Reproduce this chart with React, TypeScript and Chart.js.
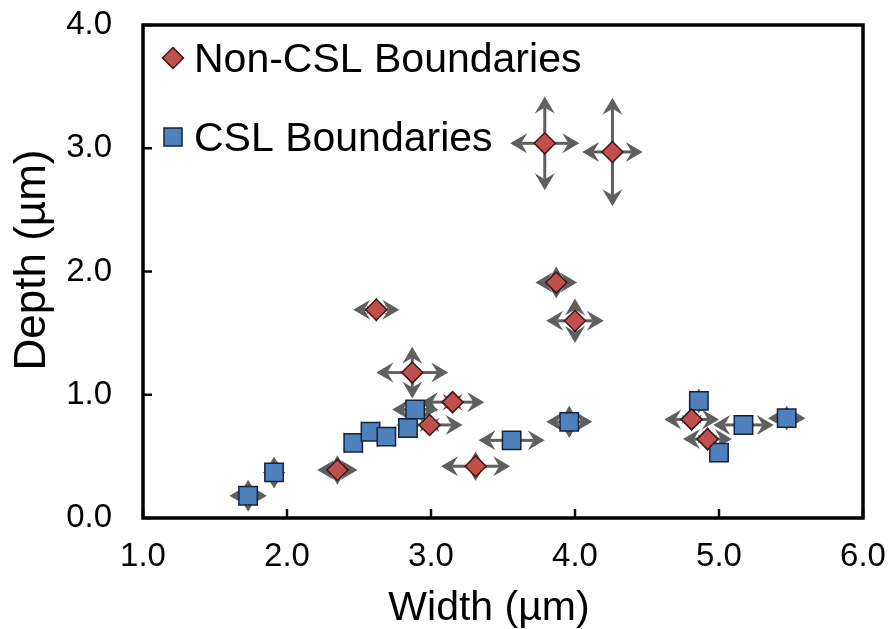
import React, { useEffect, useRef } from "react";
import { Chart, registerables } from "chart.js";

Chart.register(...registerables);

// ---- data ----
const nonCslWidth = [3.79, 4.26, 2.62, 2.87, 3.15, 2.99, 2.35, 3.31, 3.87, 4.0, 4.81, 4.92];
const nonCslDepth = [3.04, 2.97, 1.69, 1.18, 0.94, 0.755, 0.39, 0.42, 1.91, 1.6, 0.8, 0.64];
const nonCslWidthErr = [0.24, 0.21, 0.16, 0.25, 0.22, 0.23, 0.14, 0.24, 0.145, 0.2, 0.19, 0.17];
const nonCslDepthErr = [0.38, 0.44, 0.1, 0.21, 0.07, 0.08, 0.12, 0.12, 0.13, 0.18, 0.1, 0.1];

const cslWidth = [1.73, 1.91, 2.46, 2.58, 2.69, 2.84, 2.89, 3.56, 3.96, 4.86, 5.0, 5.17, 5.47];
const cslDepth = [0.18, 0.37, 0.61, 0.7, 0.66, 0.73, 0.88, 0.63, 0.78, 0.95, 0.53, 0.755, 0.81];
const cslWidthErr = [0.13, 0.08, 0.06, 0.06, 0.06, 0.06, 0.16, 0.23, 0.16, 0.07, 0.06, 0.21, 0.13];
const cslDepthErr = [0.13, 0.13, 0.05, 0.05, 0.05, 0.05, 0.06, 0.06, 0.13, 0.1, 0.06, 0.06, 0.1];

const xTicks = [1, 2, 3, 4, 5, 6];
const xTickLabels = ["1.0", "2.0", "3.0", "4.0", "5.0", "6.0"];
const yTicks = [0, 1, 2, 3, 4];
const yTickLabels = ["0.0", "1.0", "2.0", "3.0", "4.0"];

const seriesNames = ["Non-CSL Boundaries", "CSL Boundaries"];
const xTitle = "Width (µm)";
const yTitle = "Depth (µm)";

// ---- styles ----
const FONT = "'Liberation Sans', Arial, sans-serif";
const RED = "#C0504D";
const RED_BORDER = "#3f1514";
const BLUE = "#4F81BD";
const BLUE_BORDER = "#14243f";
const ERR_COLOR = "#5f5f5f";

function drawArrow(ctx: CanvasRenderingContext2D, cx: number, cy: number, tx: number, ty: number) {
  const dx = tx - cx;
  const dy = ty - cy;
  const len = Math.hypot(dx, dy);
  if (len < 0.5) return;
  const ux = dx / len;
  const uy = dy / len;
  const px = -uy;
  const py = ux;
  const L = 17;
  const W = 10;
  const N = 11;
  if (len > N) {
    ctx.beginPath();
    ctx.moveTo(cx, cy);
    ctx.lineTo(tx - ux * N, ty - uy * N);
    ctx.stroke();
  }
  ctx.beginPath();
  ctx.moveTo(tx, ty);
  ctx.lineTo(tx - ux * L + px * W, ty - uy * L + py * W);
  ctx.lineTo(tx - ux * N, ty - uy * N);
  ctx.lineTo(tx - ux * L - px * W, ty - uy * L - py * W);
  ctx.closePath();
  ctx.fill();
}

const framePlugin = {
  id: "frameAndErrors",
  beforeDatasetsDraw(chart: any) {
    const { ctx, chartArea: a, scales } = chart;
    const xs = scales.x;
    const ys = scales.y;
    ctx.save();
    // error bars
    ctx.strokeStyle = ERR_COLOR;
    ctx.fillStyle = ERR_COLOR;
    ctx.lineWidth = 3;
    chart.data.datasets.forEach((ds: any) => {
      ds.data.forEach((p: any, i: number) => {
        const cx = xs.getPixelForValue(p.x);
        const cy = ys.getPixelForValue(p.y);
        const ex = ds.errX[i];
        const ey = ds.errY[i];
        drawArrow(ctx, cx, cy, xs.getPixelForValue(p.x - ex), cy);
        drawArrow(ctx, cx, cy, xs.getPixelForValue(p.x + ex), cy);
        drawArrow(ctx, cx, cy, cx, ys.getPixelForValue(p.y + ey));
        drawArrow(ctx, cx, cy, cx, ys.getPixelForValue(p.y - ey));
      });
    });
    // frame
    ctx.strokeStyle = "#000";
    ctx.lineWidth = 3.5;
    ctx.strokeRect(a.left, a.top, a.right - a.left, a.bottom - a.top);
    // inward ticks
    ctx.lineWidth = 2.5;
    ctx.beginPath();
    xTicks.forEach((v) => {
      const px = xs.getPixelForValue(v);
      ctx.moveTo(px, a.bottom);
      ctx.lineTo(px, a.bottom - 9);
    });
    yTicks.forEach((v) => {
      const py = ys.getPixelForValue(v);
      ctx.moveTo(a.left, py);
      ctx.lineTo(a.left + 9, py);
    });
    ctx.stroke();
    ctx.restore();
  },
  afterDraw(chart: any) {
    const { ctx } = chart;
    ctx.save();
    ctx.fillStyle = "#000";
    // axis titles
    ctx.font = `41px ${FONT}`;
    ctx.textAlign = "center";
    ctx.textBaseline = "alphabetic";
    ctx.fillText(xTitle, 489, 620);
    ctx.save();
    ctx.translate(45, 260);
    ctx.rotate(-Math.PI / 2);
    ctx.font = `44px ${FONT}`;
    ctx.fillText(yTitle, 0, 0);
    ctx.restore();

    // legend
    ctx.lineWidth = 1.5;
    const dx = 173, dy = 58, r = 10.5;
    ctx.beginPath();
    ctx.moveTo(dx, dy - r);
    ctx.lineTo(dx + r, dy);
    ctx.lineTo(dx, dy + r);
    ctx.lineTo(dx - r, dy);
    ctx.closePath();
    ctx.fillStyle = RED;
    ctx.fill();
    ctx.strokeStyle = RED_BORDER;
    ctx.stroke();
    const sx = 173, sy = 137, h = 9;
    ctx.fillStyle = BLUE;
    ctx.fillRect(sx - h, sy - h, 2 * h, 2 * h);
    ctx.strokeStyle = BLUE_BORDER;
    ctx.strokeRect(sx - h, sy - h, 2 * h, 2 * h);

    ctx.fillStyle = "#000";
    ctx.font = `41px ${FONT}`;
    ctx.textAlign = "left";
    ctx.fillText(seriesNames[0], 194, 72);
    ctx.fillText(seriesNames[1], 194, 151);
    ctx.restore();
  },
};

export default function App() {
  const ref = useRef<HTMLCanvasElement | null>(null);

  useEffect(() => {
    if (!ref.current) return;
    const chart = new Chart(ref.current, {
      type: "scatter",
      data: {
        datasets: [
          {
            label: seriesNames[0],
            data: nonCslWidth.map((x, i) => ({ x, y: nonCslDepth[i] })),
            pointStyle: "rectRot",
            pointRadius: 10.5,
            pointHoverRadius: 10.5,
            backgroundColor: RED,
            borderColor: RED_BORDER,
            borderWidth: 1.5,
            errX: nonCslWidthErr,
            errY: nonCslDepthErr,
          } as any,
          {
            label: seriesNames[1],
            data: cslWidth.map((x, i) => ({ x, y: cslDepth[i] })),
            pointStyle: "rect",
            pointRadius: 13,
            pointHoverRadius: 13,
            backgroundColor: BLUE,
            borderColor: BLUE_BORDER,
            borderWidth: 1.5,
            errX: cslWidthErr,
            errY: cslDepthErr,
          } as any,
        ],
      },
      options: {
        responsive: false,
        animation: false,
        events: [],
        layout: { padding: { top: 25, right: 28, left: 0, bottom: 0 } },
        plugins: { legend: { display: false }, tooltip: { enabled: false } },
        scales: {
          x: {
            type: "linear",
            min: xTicks[0],
            max: xTicks[xTicks.length - 1],
            afterBuildTicks: (s: any) => {
              s.ticks = xTicks.map((v) => ({ value: v }));
            },
            ticks: {
              autoSkip: false,
              maxRotation: 0,
              padding: 19,
              color: "#000",
              font: { size: 33, family: FONT },
              callback: (_v: any, i: number) => xTickLabels[i],
            },
            grid: { display: false, drawTicks: false },
            border: { display: false },
            afterFit: (s: any) => {
              s.height = 111;
              s.paddingLeft = 0;
              s.paddingRight = 0;
            },
          },
          y: {
            type: "linear",
            min: yTicks[0],
            max: yTicks[yTicks.length - 1],
            afterBuildTicks: (s: any) => {
              s.ticks = yTicks.map((v) => ({ value: v }));
            },
            ticks: {
              autoSkip: false,
              padding: 31,
              color: "#000",
              font: { size: 33, family: FONT },
              callback: (_v: any, i: number) => yTickLabels[i],
            },
            grid: { display: false, drawTicks: false },
            border: { display: false },
            afterFit: (s: any) => {
              s.width = 143;
              s.paddingTop = 0;
              s.paddingBottom = 0;
            },
          },
        },
      } as any,
      plugins: [framePlugin],
    });
    return () => chart.destroy();
  }, []);

  return (
    <div style={{ position: "fixed", left: 0, top: 0, width: 891, height: 629, background: "#fff" }}>
      <canvas ref={ref} width={891} height={629} style={{ display: "block" }} />
    </div>
  );
}
